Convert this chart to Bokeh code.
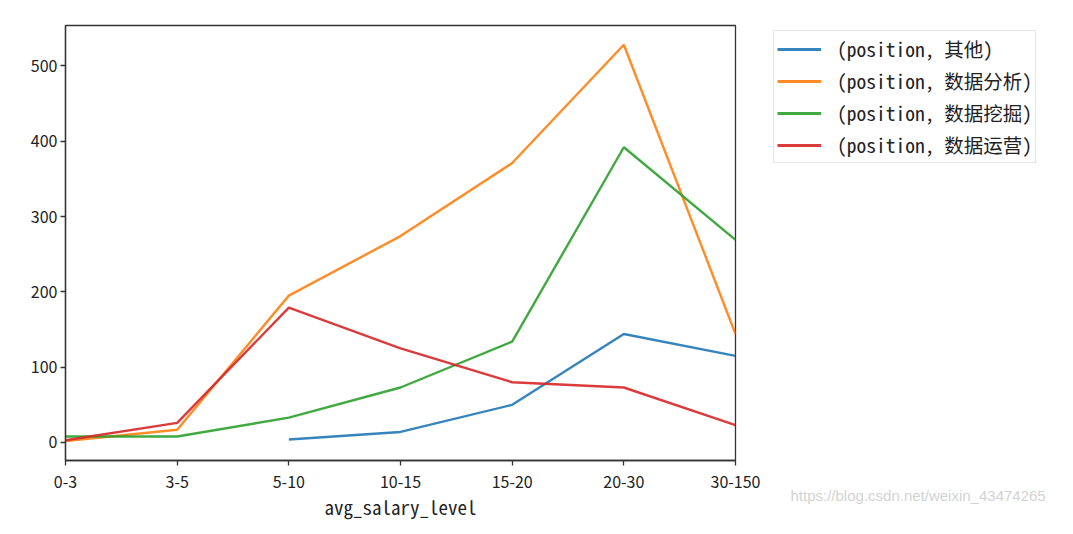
from bokeh.plotting import figure
from bokeh.layouts import row
from bokeh.models import Range1d, FixedTicker, Legend, LegendItem, Title
from bokeh.embed import file_html
from bokeh.resources import INLINE
import numpy as np

categories = ["0-3", "3-5", "5-10", "10-15", "15-20", "20-30", "30-150"]
series_names = ["(position, 其他)", "(position, 数据分析)", "(position, 数据挖掘)", "(position, 数据运营)"]
other = [np.nan, np.nan, 4, 14, 50, 144, 115]
analysis = [2, 17, 195, 274, 371, 528, 144]
mining = [8, 8, 33, 73, 134, 392, 269]
operation = [3, 26, 179, 125, 80, 73, 23]
colors = ["#1f77b4", "#ff7f0e", "#2ca02c", "#d62728"]
y_ticks = [0, 100, 200, 300, 400, 500]

FONT = "'Noto Sans Mono CJK SC', 'Noto Sans CJK SC'"
TICKFONT = "Noto Sans CJK SC"

p = figure(width=770, height=534, output_backend="svg", toolbar_location=None,
           x_range=Range1d(0, len(categories) - 1), y_range=Range1d(-23.9, 553.6),
           min_border_left=65, min_border_right=35, min_border_top=25, min_border_bottom=74)
p.outline_line_color = "#333333"
p.outline_line_width = 1.3
p.xgrid.visible = False
p.ygrid.visible = False
p.background_fill_color = "white"
p.border_fill_color = "white"

xs = list(range(len(categories)))
for vals, c in zip([other, analysis, mining, operation], colors):
    p.line(xs, vals, line_color=c, line_width=2.4, line_alpha=0.9)

for ax in (p.xaxis[0], p.yaxis[0]):
    ax.axis_line_color = "#333333"
    ax.axis_line_width = 1.3
    ax.major_tick_line_color = "#333333"
    ax.major_tick_line_width = 1.3
    ax.major_tick_out = 5
    ax.major_tick_in = 0
    ax.minor_tick_line_color = None
    ax.major_label_text_font = TICKFONT
    ax.major_label_text_font_size = "16px"
    ax.major_label_text_color = "#222222"

p.xaxis[0].ticker = FixedTicker(ticks=xs)
p.xaxis[0].major_label_overrides = {i: c for i, c in enumerate(categories)}
p.xaxis[0].major_label_standoff = 10
p.xaxis[0].axis_label = "avg_salary_level"
p.xaxis[0].axis_label_text_font = FONT
p.xaxis[0].axis_label_text_font_size = "19px"
p.xaxis[0].axis_label_text_font_style = "normal"
p.xaxis[0].axis_label_text_color = "#222222"
p.xaxis[0].axis_label_standoff = 2

p.yaxis[0].ticker = FixedTicker(ticks=y_ticks)
p.yaxis[0].major_label_standoff = 3

# side panel holding the legend and the watermark
q = figure(width=303, height=534, output_backend="svg", toolbar_location=None,
           x_range=Range1d(0, 1), y_range=Range1d(0, 1),
           min_border_left=0, min_border_right=0, min_border_top=25, min_border_bottom=74)
q.axis.visible = False
q.xgrid.visible = False
q.ygrid.visible = False
q.outline_line_color = None
q.background_fill_color = "white"
q.border_fill_color = "white"

items = []
for name, c in zip(series_names, colors):
    r = q.line(x=[np.nan, np.nan], y=[np.nan, np.nan], line_color=c, line_width=2.8, line_alpha=0.9)
    items.append(LegendItem(label=name, renderers=[r]))

legend = Legend(items=items, location=(3, 297), orientation="vertical")
legend.label_text_font = FONT
legend.label_text_font_size = "19.5px"
legend.label_text_color = "#222222"
legend.glyph_width = 44
legend.glyph_height = 22
legend.label_height = 22
legend.label_standoff = 16
legend.spacing = 3
legend.padding = 3
legend.margin = 0
legend.border_line_color = "#cccccc"
legend.border_line_width = 1
legend.background_fill_color = "white"
legend.background_fill_alpha = 1.0
q.add_layout(legend, "center")

wm = Title(text="https://blog.csdn.net/weixin_43474265", align="left", offset=20,
           text_font="Liberation Sans", text_font_size="15px", text_font_style="normal",
           text_color="#d3d3d3", standoff=48)
q.add_layout(wm, "below")

layout = row(p, q, spacing=0)
open("out.html", "w").write(file_html(layout, INLINE))
